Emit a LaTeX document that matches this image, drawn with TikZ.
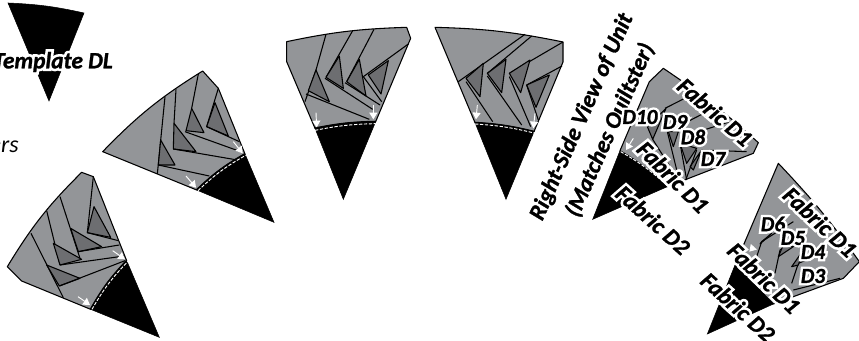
\documentclass[tikz,border=0pt]{standalone}
\usepackage{fontspec}
\setmainfont{Carlito}
\newfontface\halofont{Carlito Bold Italic}[FakeBold=24]
\newfontface\inkfont{Carlito Bold Italic}[FakeBold=1.2]
\usetikzlibrary{arrows.meta}
\definecolor{cPatch}{HTML}{939598}
\definecolor{cDark}{HTML}{6D6E71}
\newcommand{\halotext}[1]{\makebox[0pt][l]{\halofont\color{white}#1}{\inkfont #1}}
\tikzset{
  patch/.style={draw=black, fill=cPatch, line width=0.8pt, line join=round},
  darkpatch/.style={draw=black, fill=cDark, line width=0.8pt, line join=round},
  wedge/.style={draw=black, fill=black, line width=0.4pt},
  seam/.style={draw=black, line width=0.8pt},
  fold/.style={draw=black, line width=1.4pt},
  stitch/.style={draw=white, dash pattern=on 2.5pt off 1.2pt, line width=0.7pt},
  pin/.style={draw=white, line width=0.7pt, -{Triangle[length=5pt,width=6pt]}},
  tag/.style={font=\fontsize{17.5}{17.5}\selectfont, inner sep=0pt},
  unit/.style={font=\fontsize{16}{16}\selectfont, inner sep=0pt},
  note/.style={font=\itshape\fontsize{18}{18}\selectfont, inner sep=0pt},
}
\begin{document}
\begin{tikzpicture}[x=0.75pt, y=-0.75pt]
  \useasboundingbox (0,0) rectangle (859,341);
  % template wedge, top left
  \path[wedge] (8,3) to[bend left=5] (84,13) -- (49,101) -- cycle;
  % unit 1, lower left
  \begin{scope}[x=0.25pt, y=-0.25pt]
    \path[patch] (22,800) to[bend left=7] (245,517) -- (280,530) -- (380,782) to[bend right=7] (272,928) -- (65,843) -- cycle;
    \path[wedge] (272,928) to[bend left=7] (380,782) -- (478,1012) -- cycle;
    \draw[seam] (93,700) -- (190,893);
    \draw[seam] (140,632) -- (180,795);
    \draw[seam] (180,590) -- (240,775);
    \draw[seam] (280,530) -- (262,698);
    \path[darkpatch] (160,730) -- (245,778) -- (180,795) -- cycle;
    \path[darkpatch] (212,685) -- (305,740) -- (235,755) -- cycle;
    \path[darkpatch] (282,620) -- (332,712) -- (262,698) -- cycle;
    \path[darkpatch] (140,795) -- (240,835) -- (178,858) -- cycle;
    \draw[seam] (178,858) -- (375,782);
    \draw[seam] (180,795) -- (372,768);
    \draw[seam] (235,755) -- (358,735);
    \draw[seam] (262,698) -- (355,722);
    \draw[fold] (272,928) to[bend left=7] (380,782);
    \draw[stitch] (276,928) to[bend left=7] (384,784);
    \draw[pin] (234,890) -- (270,915);
    \draw[pin] (338,752) -- (375,778);
  \end{scope}
  % unit 2
  \begin{scope}[x=0.25pt, y=-0.25pt]
    \path[patch] (308,455) to[bend left=7] (608,213) -- (655,265) -- (735,462) to[bend right=7] (590,570) -- cycle;
    \path[wedge] (590,570) to[bend left=7] (735,462) -- (822,667) -- cycle;
    \draw[seam] (495,290) -- (472,522);
    \draw[seam] (528,268) -- (522,370);
    \draw[seam] (595,222) -- (575,325);
    \draw[seam] (655,265) -- (620,380);
    \path[darkpatch] (482,420) -- (525,495) -- (475,495) -- cycle;
    \path[darkpatch] (522,370) -- (588,455) -- (520,447) -- cycle;
    \path[darkpatch] (575,325) -- (612,398) -- (558,392) -- cycle;
    \path[darkpatch] (645,308) -- (685,408) -- (620,380) -- cycle;
    \draw[seam] (475,495) -- (628,528);
    \draw[seam] (520,447) -- (712,480);
    \draw[seam] (555,395) -- (722,455);
    \draw[seam] (620,380) -- (718,425);
    \draw[fold] (590,570) to[bend left=7] (735,462);
    \draw[stitch] (594,572) to[bend left=7] (737,466);
    \draw[pin] (558,528) -- (588,563);
    \draw[pin] (700,425) -- (728,460);
  \end{scope}
  % unit 3
  \begin{scope}[shift={(280,20)}, x=0.25pt, y=-0.25pt]
    \path[patch] (20,65) to[bend left=5] (380,22) -- (392,55) -- (287,305) to[bend right=5] (105,325) -- (20,125) -- cycle;
    \path[wedge] (105,325) to[bend left=5] (287,305) -- (190,538) -- cycle;
    \draw[seam] (138,43) -- (108,150);
    \draw[seam] (218,32) -- (138,172);
    \draw[seam] (282,28) -- (200,185);
    \draw[seam] (385,72) -- (250,170);
    \draw[seam] (108,150) -- (75,245);
    \path[darkpatch] (108,150) -- (148,245) -- (85,212) -- cycle;
    \path[darkpatch] (178,108) -- (190,205) -- (138,172) -- cycle;
    \path[darkpatch] (238,118) -- (258,228) -- (200,185) -- cycle;
    \path[darkpatch] (325,122) -- (303,222) -- (265,165) -- cycle;
    \draw[seam] (78,222) -- (268,298);
    \draw[seam] (135,175) -- (278,268);
    \draw[seam] (195,188) -- (300,255);
    \draw[seam] (250,170) -- (305,245);
    \draw[fold] (105,325) to[bend left=5] (287,305);
    \draw[stitch] (105,331) to[bend left=5] (287,311);
    \draw[pin] (108,278) -- (110,322);
    \draw[pin] (280,255) -- (280,298);
  \end{scope}
  % unit 4
  \begin{scope}[shift={(280,20)}, x=0.25pt, y=-0.25pt]
    \path[patch] (465,22) to[bend left=5] (849,66) -- (849,126) -- (762,335) to[bend right=5] (585,308) -- cycle;
    \path[wedge] (585,308) to[bend left=5] (762,335) -- (678,538) -- cycle;
    \draw[seam] (735,43) -- (535,185);
    \draw[seam] (755,48) -- (622,160);
    \draw[seam] (849,66) -- (688,160);
    \draw[seam] (846,138) -- (740,195);
    \path[darkpatch] (610,130) -- (600,230) -- (558,175) -- cycle;
    \path[darkpatch] (678,118) -- (665,218) -- (622,160) -- cycle;
    \path[darkpatch] (750,120) -- (722,218) -- (688,160) -- cycle;
    \path[darkpatch] (808,165) -- (768,262) -- (740,195) -- cycle;
    \draw[seam] (558,185) -- (638,305);
    \draw[seam] (622,168) -- (725,315);
    \draw[seam] (688,170) -- (752,320);
    \draw[seam] (740,195) -- (775,300);
    \draw[fold] (585,308) to[bend left=5] (762,335);
    \draw[stitch] (585,312) to[bend left=5] (762,339);
    \draw[pin] (592,255) -- (588,298);
    \draw[pin] (765,280) -- (760,325);
  \end{scope}
  % unit 5, labelled
  \begin{scope}[shift={(530,0)}, x=0.25pt, y=-0.25pt]
    \path[patch] (400,205) to[bend left=4] (685,428) -- (670,460) -- (412,560) to[bend right=6] (270,452) -- (358,245) -- cycle;
    \path[wedge] (270,452) to[bend left=6] (412,560) -- (188,658) -- cycle;
    \draw[seam] (470,292) -- (405,325);
    \draw[seam] (550,325) -- (415,395);
    \draw[seam] (600,365) -- (490,400);
    \draw[seam] (650,455) -- (515,450);
    \path[darkpatch] (408,325) -- (368,418) -- (352,380) -- cycle;
    \path[darkpatch] (445,395) -- (430,440) -- (415,395) -- cycle;
    \path[darkpatch] (500,445) -- (470,490) -- (450,430) -- cycle;
    \path[darkpatch] (515,450) -- (490,510) -- (480,500) -- cycle;
    \draw[seam] (368,418) -- (420,500);
    \draw[seam] (412,395) -- (445,530);
    \draw[seam] (450,430) -- (470,540);
    \draw[seam] (468,538) -- (500,450);
    \draw[stitch] (272,455) to[bend left=6] (412,557);
    \draw[pin] (310,415) -- (288,450);
  \end{scope}
  % unit 6, labelled
  \begin{scope}[shift={(690,150)}, x=0.25pt, y=-0.25pt]
    \path[patch] (265,40) to[bend left=4] (508,335) -- (460,385) -- (250,462) -- (135,345) -- cycle;
    \path[wedge] (135,345) -- (250,462) -- (52,552) -- cycle;
    \draw[seam] (310,215) -- (215,275);
    \draw[seam] (215,275) -- (200,320);
    \draw[seam] (350,250) -- (270,300);
    \draw[seam] (270,300) -- (255,370);
    \draw[seam] (410,305) -- (325,340);
    \draw[seam] (325,340) -- (305,400);
    \draw[seam] (450,385) -- (310,420);
    \path[darkpatch] (245,250) -- (215,275) -- (210,282) -- cycle;
    \path[darkpatch] (310,290) -- (265,320) -- (280,285) -- cycle;
    \path[darkpatch] (340,300) -- (305,350) -- (325,345) -- cycle;
    \draw[pin] (190,292) -- (178,305);
  \end{scope}
  % labels
  \node[tag, anchor=east] (templateDL) at (113,62) {\halotext{Template DL}};
  \node[note, anchor=east] (layers) at (19,147) {ers};
  \node[tag, rotate=66] (rightView) at (582,117) {\halotext{Right-Side View of Unit}};
  \node[tag, rotate=66] (matches) at (610,130) {\halotext{(Matches Quiltster)}};
  \node[tag, rotate=-41] (upperD1) at (715,112) {\halotext{Fabric D1}};
  \node[tag, rotate=-45] (upperSeam) at (673,177) {\halotext{Fabric D1}};
  \node[tag, rotate=-42] (upperD2) at (653,220) {\halotext{Fabric D2}};
  \node[unit] (dTen) at (640,117) {\halotext{D10}};
  \node[unit] (dNine) at (675,122) {\halotext{D9}};
  \node[unit] (dEight) at (693,137) {\halotext{D8}};
  \node[unit] (dSeven) at (713,159) {\halotext{D7}};
  \node[tag, rotate=-43] (lowerD1) at (820,222) {\halotext{Fabric D1}};
  \node[tag, rotate=-44] (lowerSeam) at (764,278) {\halotext{Fabric D1}};
  \node[tag, rotate=-42] (lowerD2) at (738,307) {\halotext{Fabric D2}};
  \node[unit] (dSix) at (773,224) {\halotext{D6}};
  \node[unit] (dFive) at (793,238) {\halotext{D5}};
  \node[unit] (dFour) at (813,252) {\halotext{D4}};
  \node[unit] (dThree) at (813,276) {\halotext{D3}};
\end{tikzpicture}
\end{document}
